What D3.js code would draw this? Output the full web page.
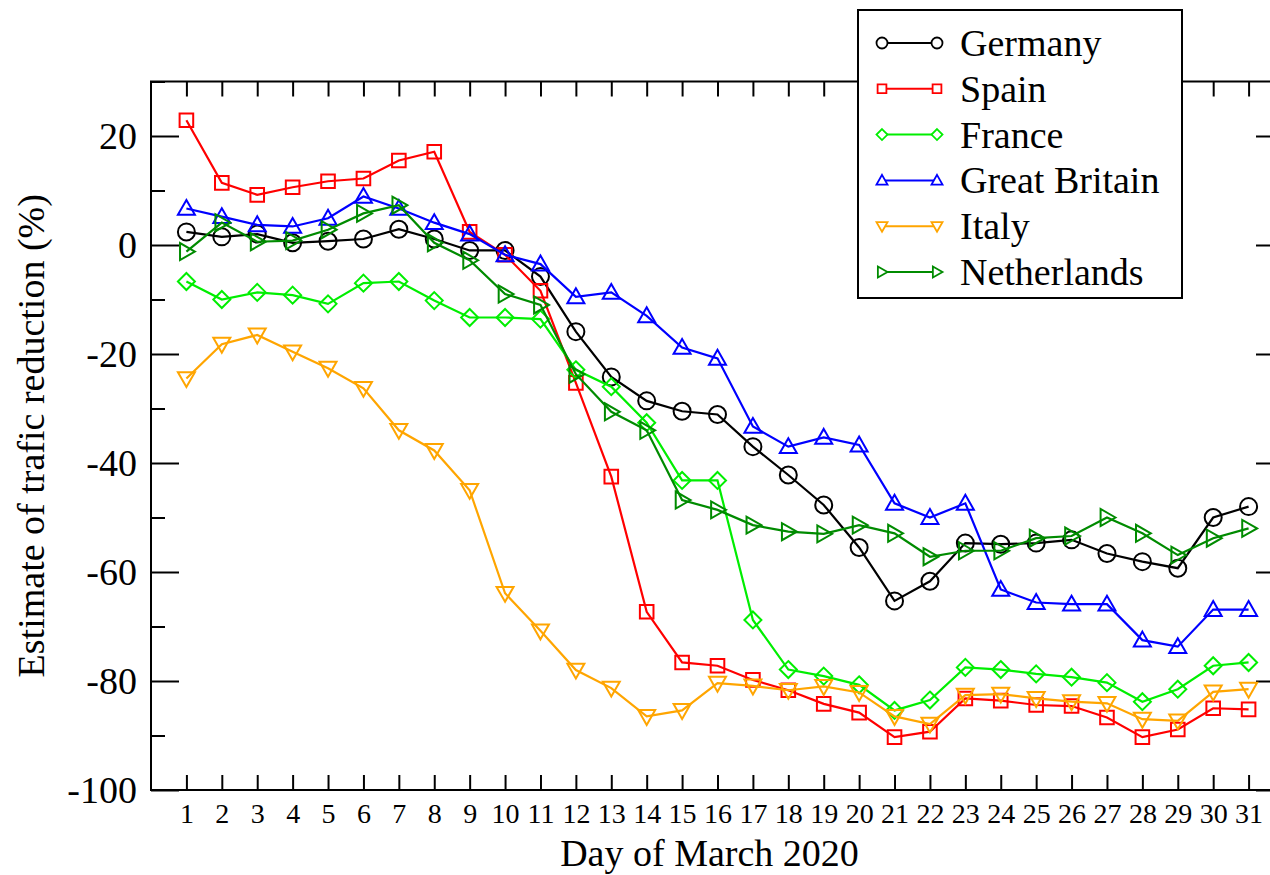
<!DOCTYPE html>
<html>
<head>
<meta charset="utf-8">
<script src="https://cdn.jsdelivr.net/npm/d3@7"></script>
<style>
  body { margin: 0; background: #fff; }
  svg text { font-family: "Liberation Serif", "Times New Roman", serif; fill: #000; }
</style>
</head>
<body>
<div id="chart"></div>
<script>
// Days of March 2020
const days = d3.range(1, 32);

// Estimated traffic reduction (%) per country
const germany = [2.4, 1.5, 2, 0.4, 0.7, 1.1, 2.9, 1.1, -1, -1, -5.8, -15.9, -24.2, -28.6, -30.5, -31.1,
  -37, -42.2, -47.7, -55.5, -65.3, -61.7, -54.7, -54.9, -54.7, -54.1, -56.6, -58.1, -59.3, -50, -48];
const spain = [22.9, 11.4, 9.2, 10.6, 11.7, 12.2, 15.5, 17.1, 2.4, -1.8, -8.4, -25.3, -42.5, -67.3, -76.6, -77.2,
  -79.8, -81.7, -84.2, -85.8, -90.3, -89.3, -83.2, -83.6, -84.4, -84.6, -86.7, -90.3, -88.9, -85, -85.2];
const france = [-6.7, -10, -8.7, -9.2, -10.8, -7, -6.7, -10.2, -13.3, -13.3, -13.6, -22.9, -26, -32.6, -43.2, -43.2,
  -68.8, -77.9, -79.1, -80.7, -85.4, -83.5, -77.5, -77.9, -78.7, -79.3, -80.3, -83.8, -81.5, -77.2, -76.6];
const greatBritain = [6.7, 5.2, 3.7, 3.4, 4.9, 8.9, 6.7, 4.1, 2, -1.8, -3.5, -9.5, -8.7, -13, -18.8, -20.8,
  -33.3, -37, -35.3, -36.7, -47.4, -50, -47.4, -63.2, -65.6, -65.9, -65.9, -72.5, -73.7, -66.9, -66.9];
const italy = [-24.5, -18.2, -16.5, -19.6, -22.6, -26.3, -34, -37.7, -45, -63.9, -70.8, -78, -81.3, -86.5, -85.4, -80.4,
  -80.9, -81.7, -81, -82.1, -86.5, -87.9, -82.6, -82.4, -83.2, -83.8, -84.1, -87, -87.3, -82, -81.5];
const netherlands = [-1.2, 4.1, 0.6, 0.8, 2.8, 5.8, 7.3, 0.4, -2.8, -9, -11, -23.7, -30.6, -34, -46.8, -48.6,
  -51.4, -52.6, -53, -51.4, -52.9, -57.2, -56.1, -56.1, -53.8, -53.4, -50, -52.9, -56.9, -53.8, -52];

const countries = ["Germany", "Spain", "France", "Great Britain", "Italy", "Netherlands"];
const colors = ["#000000", "#ff0000", "#00ee00", "#0000ff", "#ffa500", "#008b00"];
const symbols = ["circle", "square", "diamond", "triangleUp", "triangleDown", "triangleRight"];

const yMajorTicks = [-100, -80, -60, -40, -20, 0, 20];
const yMinorTicks = [-90, -70, -50, -30, -10, 10, 30];

const seriesValues = [germany, spain, france, greatBritain, italy, netherlands];
const series = countries.map((name, i) => ({
  name: name,
  color: colors[i],
  symbol: symbols[i],
  values: seriesValues[i].map((v, j) => ({ day: days[j], value: v }))
}));

// Layout
const width = 1270;
const height = 875;
const margin = { top: 81.5, right: -14, bottom: 85, left: 151 };

const svg = d3.select("#chart")
  .append("svg")
  .attr("width", width)
  .attr("height", height);

const x = d3.scaleLinear()
  .domain([0, 32])
  .range([margin.left, width - margin.right]);

const y = d3.scaleLinear()
  .domain([-100, 30])
  .range([height - margin.bottom, margin.top]);

// Marker shapes (size = half width)
function markerPath(type, s) {
  const p = d3.path();
  if (type === "circle") {
    p.moveTo(s, 0);
    p.arc(0, 0, s, 0, 2 * Math.PI);
  } else if (type === "square") {
    p.rect(-s * 0.8, -s * 0.8, s * 1.6, s * 1.6);
  } else if (type === "diamond") {
    p.moveTo(0, -s); p.lineTo(s, 0); p.lineTo(0, s); p.lineTo(-s, 0); p.closePath();
  } else if (type === "triangleUp") {
    p.moveTo(0, -s); p.lineTo(s, s * 0.75); p.lineTo(-s, s * 0.75); p.closePath();
  } else if (type === "triangleDown") {
    p.moveTo(0, s); p.lineTo(s, -s * 0.75); p.lineTo(-s, -s * 0.75); p.closePath();
  } else if (type === "triangleRight") {
    p.moveTo(s, 0); p.lineTo(-s * 0.75, -s); p.lineTo(-s * 0.75, s); p.closePath();
  }
  return p.toString();
}

// Axes (ticks point inward, frame drawn separately)
const axisFont = 38;

svg.append("g")
  .attr("transform", `translate(0,${y(-100)})`)
  .call(d3.axisBottom(x).tickValues(days).tickSizeInner(-15).tickSizeOuter(0).tickPadding(13))
  .call(g => g.select(".domain").remove())
  .call(g => g.selectAll("text").attr("font-size", 28).attr("font-family", "Liberation Serif"));

svg.append("g")
  .attr("transform", `translate(0,${y(30)})`)
  .call(d3.axisTop(x).tickValues(days).tickSizeInner(-15).tickSizeOuter(0).tickFormat(""))
  .call(g => g.select(".domain").remove());

svg.append("g")
  .attr("transform", `translate(${x(0)},0)`)
  .call(d3.axisLeft(y).tickValues(yMajorTicks).tickSizeInner(-28).tickSizeOuter(0).tickPadding(14)
    .tickFormat(d => String(d)))
  .call(g => g.select(".domain").remove())
  .call(g => g.selectAll("text").attr("font-size", axisFont).attr("font-family", "Liberation Serif"));

svg.append("g")
  .attr("transform", `translate(${x(0)},0)`)
  .call(d3.axisLeft(y).tickValues(yMinorTicks).tickSizeInner(-14).tickSizeOuter(0).tickFormat(""))
  .call(g => g.select(".domain").remove());

svg.append("g")
  .attr("transform", `translate(${x(32)},0)`)
  .call(d3.axisRight(y).tickValues(yMajorTicks).tickSizeInner(-28).tickSizeOuter(0).tickFormat(""))
  .call(g => g.select(".domain").remove());

svg.append("g")
  .attr("transform", `translate(${x(32)},0)`)
  .call(d3.axisRight(y).tickValues(yMinorTicks).tickSizeInner(-14).tickSizeOuter(0).tickFormat(""))
  .call(g => g.select(".domain").remove());

svg.selectAll(".tick line").attr("stroke", "#000").attr("stroke-width", 2);

// Frame
svg.append("rect")
  .attr("x", x(0))
  .attr("y", y(30))
  .attr("width", x(32) - x(0))
  .attr("height", y(-100) - y(30))
  .attr("fill", "none")
  .attr("stroke", "#000")
  .attr("stroke-width", 2);

// Axis titles
svg.append("text")
  .attr("x", (x(0) + x(32)) / 2 - 8)
  .attr("y", 866)
  .attr("text-anchor", "middle")
  .attr("font-size", axisFont)
  .text("Day of March 2020");

svg.append("text")
  .attr("transform", `translate(44,${(y(30) + y(-100)) / 2}) rotate(-90)`)
  .attr("text-anchor", "middle")
  .attr("font-size", axisFont)
  .text("Estimate of trafic reduction (%)");

// Lines and markers
const line = d3.line()
  .x(d => x(d.day))
  .y(d => y(d.value));

const seriesG = svg.selectAll(".series")
  .data(series)
  .enter().append("g")
  .attr("class", "series");

seriesG.append("path")
  .attr("d", d => line(d.values))
  .attr("fill", "none")
  .attr("stroke", d => d.color)
  .attr("stroke-width", 2.2);

seriesG.each(function(s) {
  d3.select(this).selectAll(".marker")
    .data(s.values)
    .enter().append("path")
    .attr("class", "marker")
    .attr("transform", d => `translate(${x(d.day)},${y(d.value)})`)
    .attr("d", markerPath(s.symbol, 8.5))
    .attr("fill", "none")
    .attr("stroke", s.color)
    .attr("stroke-width", 2);
});

// Legend
const legend = svg.append("g");

legend.append("rect")
  .attr("x", 858)
  .attr("y", 10)
  .attr("width", 324)
  .attr("height", 288)
  .attr("fill", "#fff")
  .attr("stroke", "#000")
  .attr("stroke-width", 2);

const legendRow = legend.selectAll(".legend-row")
  .data(series)
  .enter().append("g")
  .attr("class", "legend-row")
  .attr("transform", (d, i) => `translate(0,${43 + i * 45.8})`);

legendRow.append("line")
  .attr("x1", 882)
  .attr("x2", 937)
  .attr("stroke", d => d.color)
  .attr("stroke-width", 2);

legendRow.each(function(s) {
  d3.select(this).selectAll(".lm")
    .data([882, 937])
    .enter().append("path")
    .attr("class", "lm")
    .attr("transform", d => `translate(${d},0)`)
    .attr("d", markerPath(s.symbol, 5.5))
    .attr("fill", "#fff")
    .attr("stroke", s.color)
    .attr("stroke-width", 1.8);
});

legendRow.append("text")
  .attr("x", 960)
  .attr("y", 0)
  .attr("dy", "0.34em")
  .attr("font-size", axisFont)
  .text(d => d.name);
</script>
</body>
</html>
